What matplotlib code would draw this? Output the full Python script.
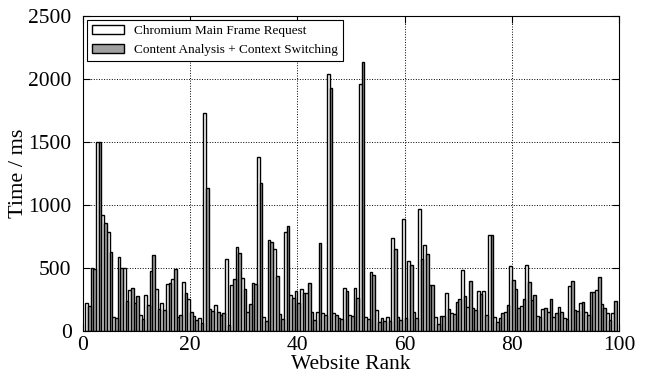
import numpy as np
import matplotlib
matplotlib.use('Agg')
import matplotlib.pyplot as plt

plt.rcParams['font.family'] = 'serif'
plt.rcParams['font.serif'] = ['Liberation Serif', 'DejaVu Serif']

# website rank 1..99
ranks = np.arange(1, 100)

# Chromium main frame request time (ms)
main_frame = [220, 498, 1496, 921, 789, 108, 585, 503, 325, 225,
              127, 288, 479, 333, 220, 373, 413, 114, 389, 254,
              119, 100, 1728, 172, 206, 127, 569, 363, 670, 423,
              148, 379, 1384, 114, 723, 648, 132, 784, 286, 320,
              331, 304, 154, 154, 140, 2041, 140, 106, 339, 127,
              339, 1961, 108, 471, 167, 106, 108, 741, 108, 889,
              556, 151, 969, 683, 365, 108, 119, 299, 140, 230,
              484, 190, 180, 320, 320, 762, 108, 100, 154, 516,
              331, 199, 524, 246, 116, 172, 154, 108, 193, 106,
              357, 167, 220, 151, 307, 326, 214, 146, 140]

# content analysis + context switching time (ms)
content = [199, 490, 1496, 855, 630, 100, 498, 238, 341, 278,
           93, 206, 603, 175, 167, 381, 495, 127, 304, 154,
           87, 66, 1133, 161, 154, 146, 48, 416, 617, 331,
           212, 376, 1178, 79, 704, 440, 93, 834, 265, 225,
           299, 379, 90, 701, 125, 1927, 127, 93, 320, 116,
           259, 2131, 93, 445, 71, 77, 79, 651, 87, 100,
           524, 106, 572, 609, 365, 56, 119, 175, 135, 251,
           278, 400, 167, 294, 124, 762, 74, 140, 206, 405,
           183, 251, 389, 283, 108, 183, 251, 140, 154, 98,
           400, 161, 230, 124, 312, 429, 183, 87, 241]

fig = plt.figure(figsize=(6.48, 3.78), dpi=100)
ax = fig.add_axes([0.1276, 0.1243, 0.8281, 0.8337])

w = 0.5
ax.bar(ranks - w / 2, main_frame, w, color='white', edgecolor='black',
       linewidth=1.0, label='Chromium Main Frame Request', zorder=2)
ax.bar(ranks + w / 2, content, w, color='#a0a0a0', edgecolor='black',
       linewidth=1.0, label='Content Analysis + Context Switching', zorder=2)

ax.set_xlim(0, 100)
ax.set_ylim(0, 2500)
ax.set_xticks(range(0, 101, 20))
ax.set_yticks(range(0, 2501, 500))
ax.tick_params(direction='in', top=True, right=True, labelsize=15.5, length=5)
ax.tick_params(axis='y', pad=8)
ax.grid(True, color='black', linestyle=':', linewidth=0.7, zorder=0)
ax.set_axisbelow(True)

ax.set_xlabel('Website Rank', fontsize=15.5, labelpad=0)
ax.set_ylabel('Time / ms', fontsize=16)
ax.yaxis.set_label_coords(-0.102, 0.5)

leg = ax.legend(loc='upper left', fontsize=9.5, fancybox=False, framealpha=1,
                edgecolor='black', borderaxespad=0.3, handlelength=2.4)
leg.get_frame().set_linewidth(0.8)

fig.savefig('out.png', dpi=100)
